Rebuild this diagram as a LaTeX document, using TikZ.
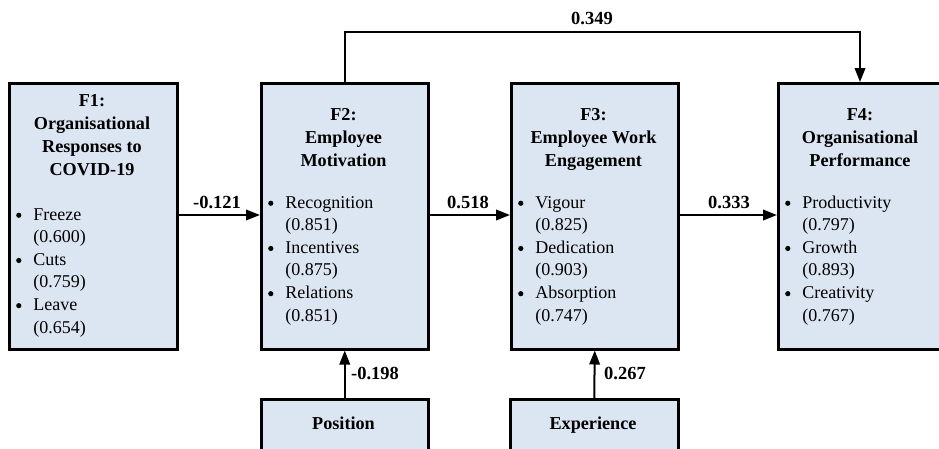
\documentclass[tikz,border=0pt]{standalone}
\usepackage{fontspec}
\setmainfont{Liberation Serif}
\usetikzlibrary{arrows.meta}
\definecolor{boxfill}{RGB}{220,230,242}
\newcommand{\titlefont}{\fontsize{18.2}{23}\selectfont\bfseries}
\newcommand{\itemfont}{\fontsize{18}{22.6}\selectfont}
\newcommand{\dotmark}{\raisebox{0.12em}{\tikz\fill (0,0) circle (2.6pt);}}
\tikzset{
  x=1pt, y=-1pt,
  factor/.style={draw=black, fill=boxfill, line width=2.5pt, rectangle,
    anchor=north west, inner sep=0pt},
  title/.style={anchor=north, inner sep=0pt, font=\titlefont, align=center},
  items/.style={anchor=north west, inner sep=0pt, font=\itemfont},
  coef/.style={inner sep=0pt, font=\fontsize{18.5}{22}\selectfont\bfseries},
  link/.style={line width=2pt, -{Triangle[length=14pt,width=10.5pt]}},
}
\newcommand{\itemlist}[3]{%
  \begin{tabular}{@{}l@{\hspace{12pt}}l@{}}
    \dotmark & #1\\ & #2\\ #3
  \end{tabular}}
\begin{document}
\begin{tikzpicture}
  \useasboundingbox (0,0) rectangle (939,448);

  % factor boxes (F4 and the two control boxes run past the page edge)
  \node[factor, minimum width=168pt, minimum height=266pt] (f1) at (8,82) {};
  \node[factor, minimum width=167pt, minimum height=266pt] (f2) at (260,82) {};
  \node[factor, minimum width=167pt, minimum height=266pt] (f3) at (510,82) {};
  \node[factor, minimum width=167pt, minimum height=266pt] (f4) at (777,82) {};

  % control variable boxes
  \node[factor, minimum width=167pt, minimum height=62pt] (pos) at (260,398) {};
  \node[factor, minimum width=168pt, minimum height=62pt] (exp) at (509,398) {};
  \node[font=\titlefont, inner sep=0pt, anchor=base] (postext) at (343.5,429) {Position};
  \node[font=\titlefont, inner sep=0pt, anchor=base] (exptext) at (593,429) {Experience};

  % titles
  \node[title] (t1) at (92,90) {\begin{tabular}{@{}c@{}}F1:\\Organisational\\Responses to\\COVID-19\end{tabular}};
  \node[title] (t2) at (343.5,104) {\begin{tabular}{@{}c@{}}F2:\\Employee\\Motivation\end{tabular}};
  \node[title] (t3) at (593.5,104) {\begin{tabular}{@{}c@{}}F3:\\Employee Work\\Engagement\end{tabular}};
  \node[title] (t4) at (860,104) {\begin{tabular}{@{}c@{}}F4:\\Organisational\\Performance\end{tabular}};

  % indicator lists with loadings
  \node[items] (l1) at (16,204) {\itemlist{Freeze}{(0.600)}{\dotmark & Cuts\\ & (0.759)\\ \dotmark & Leave\\ & (0.654)}};
  \node[items] (l2) at (268,192) {\itemlist{Recognition}{(0.851)}{\dotmark & Incentives\\ & (0.875)\\ \dotmark & Relations\\ & (0.851)}};
  \node[items] (l3) at (518,192) {\itemlist{Vigour}{(0.825)}{\dotmark & Dedication\\ & (0.903)\\ \dotmark & Absorption\\ & (0.747)}};
  \node[items] (l4) at (785,192) {\itemlist{Productivity}{(0.797)}{\dotmark & Growth\\ & (0.893)\\ \dotmark & Creativity\\ & (0.767)}};

  % structural paths
  \draw[link] (f1.east |- 0,215) -- (f2.west |- 0,215);
  \draw[link] (f2.east |- 0,215) -- (f3.west |- 0,215);
  \draw[link] (f3.east |- 0,215) -- (f4.west |- 0,215);
  \draw[link] (f2.north) |- (860,32) -- (f4.north -| 860,0);
  \draw[link] (pos.north) -- (f2.south);
  \draw[link] (exp.north) -- (f3.south);

  % path coefficients
  \node[coef] (c12) at (217,202) {-0.121};
  \node[coef] (c23) at (468,202) {0.518};
  \node[coef] (c34) at (729,202) {0.333};
  \node[coef] (c24) at (592,18) {0.349};
  \node[coef, anchor=west] (cpos) at (351,373) {-0.198};
  \node[coef, anchor=west] (cexp) at (604,373) {0.267};
\end{tikzpicture}
\end{document}
